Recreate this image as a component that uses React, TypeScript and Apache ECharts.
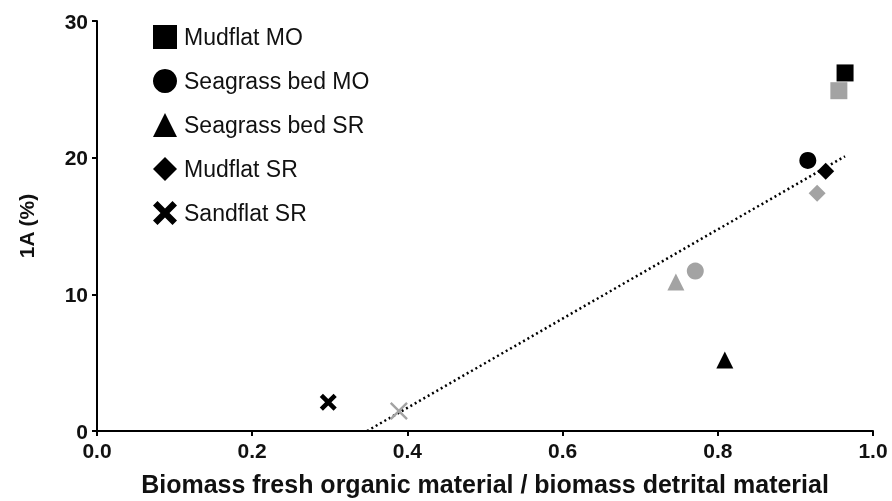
import React, { useEffect, useRef } from "react";
import * as echarts from "echarts";

const legendNames = ["Mudflat MO", "Seagrass bed MO", "Seagrass bed SR", "Mudflat SR", "Sandflat SR"];
// [x, y] per series: first black, then grey
const mudflatMO = [[0.964, 26.2], [0.956, 24.9]];
const seagrassMO = [[0.916, 19.8], [0.771, 11.7]];
const seagrassSR = [[0.809, 5.2], [0.746, 10.9]];
const mudflatSR = [[0.939, 19.0], [0.928, 17.4]];
const sandflatSR = [[0.298, 2.1], [0.389, 1.46]];
const trend = [[0.348, 0], [0.964, 20.1]];
const xTicks = [0, 0.2, 0.4, 0.6, 0.8, 1.0];
const yTicks = [0, 10, 20, 30];

const BLACK = "#000000";
const GREY = "#a3a3a3";
const FONT = "Liberation Sans, Arial, sans-serif";

const crossBold = "path://M3,0 L8,5 L13,0 L16,3 L11,8 L16,13 L13,16 L8,11 L3,16 L0,13 L5,8 L0,3 Z";
const crossThin = "path://M1.5,0 L8,6.5 L14.5,0 L16,1.5 L9.5,8 L16,14.5 L14.5,16 L8,9.5 L1.5,16 L0,14.5 L6.5,8 L0,1.5 Z";

export default function App() {
  const ref = useRef<HTMLDivElement>(null);
  useEffect(() => {
    if (!ref.current) return;
    const chart = echarts.init(ref.current, undefined, { renderer: "svg" });
    const mk = (name: string, data: number[][], symbol: string, size: number, greySymbol?: string) => ({
      name,
      type: "scatter",
      symbol,
      symbolSize: size,
      itemStyle: { color: BLACK, opacity: 1 },
      data: [
        { value: data[0] },
        { value: data[1], itemStyle: { color: GREY }, ...(greySymbol ? { symbol: greySymbol, symbolSize: 18 } : {}) },
      ],
      z: 3,
    });
    chart.setOption({
      animation: false,
      textStyle: { fontFamily: FONT },
      grid: { left: 97, right: 19, top: 21, bottom: 69, containLabel: false },
      legend: {
        orient: "vertical",
        left: 153,
        top: 25,
        padding: 0,
        itemWidth: 24,
        itemHeight: 24,
        itemGap: 20,
        textStyle: { fontSize: 23, color: "#111", fontFamily: FONT, padding: [0, 0, 0, 2] },
        data: [
          { name: legendNames[0], icon: "rect" },
          { name: legendNames[1], icon: "circle" },
          { name: legendNames[2], icon: "triangle" },
          { name: legendNames[3], icon: "diamond" },
          { name: legendNames[4], icon: crossBold },
        ],
        selectedMode: false,
      },
      xAxis: {
        type: "value",
        min: xTicks[0],
        max: xTicks[xTicks.length - 1],
        interval: 0.2,
        name: "Biomass fresh organic material / biomass detrital material",
        nameLocation: "middle",
        nameGap: 40,
        nameTextStyle: { fontSize: 25, fontWeight: "bold", color: "#111", fontFamily: FONT },
        axisLine: { lineStyle: { color: BLACK, width: 2 } },
        axisTick: { show: true, length: 5, lineStyle: { color: BLACK, width: 2 } },
        axisLabel: {
          fontSize: 21,
          fontWeight: "bold",
          color: "#111",
          margin: 9,
          fontFamily: FONT,
          formatter: (v: number) => v.toFixed(1),
        },
        splitLine: { show: false },
      },
      yAxis: {
        type: "value",
        min: yTicks[0],
        max: yTicks[yTicks.length - 1],
        interval: 10,
        name: "1A (%)",
        nameLocation: "middle",
        nameRotate: 90,
        nameGap: 60,
        nameTextStyle: { fontSize: 21, fontWeight: "bold", color: "#111", fontFamily: FONT },
        axisLine: { show: true, lineStyle: { color: BLACK, width: 2 } },
        axisTick: { show: true, length: 5, lineStyle: { color: BLACK, width: 2 } },
        axisLabel: { fontSize: 21, fontWeight: "bold", color: "#111", margin: 9, fontFamily: FONT },
        splitLine: { show: false },
      },
      series: [
        {
          name: "trend",
          type: "line",
          data: trend,
          showSymbol: false,
          symbol: "none",
          lineStyle: { color: BLACK, width: 2.5, type: [2, 3] },
          z: 2,
          silent: true,
        },
        mk(legendNames[0], mudflatMO, "rect", 17),
        mk(legendNames[1], seagrassMO, "circle", 17),
        mk(legendNames[2], seagrassSR, "triangle", 17),
        mk(legendNames[3], mudflatSR, "diamond", 17),
        mk(legendNames[4], sandflatSR, crossBold, 17, crossThin),
      ],
    });
    return () => chart.dispose();
  }, []);
  return <div ref={ref} style={{ position: "fixed", left: 0, top: 0, width: 892, height: 501 }} />;
}
